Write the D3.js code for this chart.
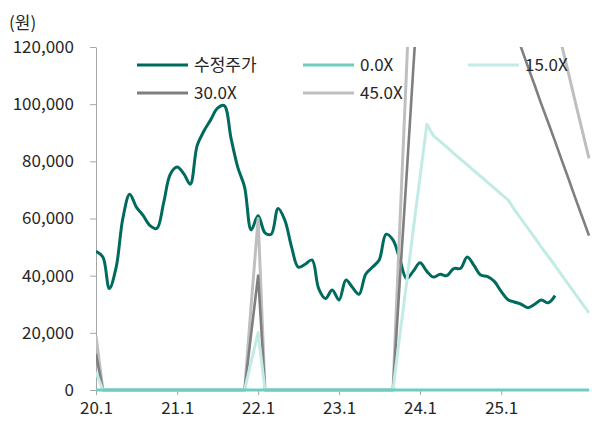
<!DOCTYPE html>
<html>
<head>
<meta charset="utf-8">
<script src="https://cdn.jsdelivr.net/npm/d3@7"></script>
<style>
  html, body { margin: 0; padding: 0; background: #fff; }
  svg text { font-family: "Noto Sans CJK KR", "Noto Sans", sans-serif; fill: #262626; }
</style>
</head>
<body>
<svg id="chart" width="592" height="421"></svg>
<script>
// ---- data ----
const startMonth = "2020-01";
const endMonth = "2026-02";
const yTicks = [0, 20000, 40000, 60000, 80000, 100000, 120000];
const xTickYears = ["2020-01", "2021-01", "2022-01", "2023-01", "2024-01", "2025-01"];
const unitLabel = "(원)";
const seriesNames = ["수정주가", "0.0X", "15.0X", "30.0X", "45.0X"];

// 수정주가 (monthly, from 2020-01)
const price = [
  48500, 46500, 35500, 43000, 60000, 68500, 64000, 61000, 57500, 56500,
  65500, 75500, 78000, 75500, 72000, 85500, 90500, 94500, 98500, 99500,
  88000, 78000, 71000, 56000, 61000, 55000, 54500, 63500, 59500, 50000,
  43000, 44000, 45500, 35500, 32000, 35000, 31500, 38500, 36000, 33500,
  40500, 43000, 45500, 54500, 52500, 46000, 39000, 41500, 44500, 41500,
  39500, 40500, 40000, 42500, 42500, 46500, 43500, 40200, 39700, 38000,
  34500, 31600, 30800, 30000, 28800, 30000, 31500, 30500, 33000
];
// PER bands (monthly, from 2020-01 to 2026-02)
const band0 = [
  0,
  0,0,0,0,0,0,0,0,0,0,
  0,0,0,0,0,0,0,0,0,0,
  0,0,
  0,0,
  0,0,0,0,0,0,0,0,0,0,
  0,0,0,0,0,0,0,0,0,0,
  0,0,0,0,0,
  0,0,0,0,0,0,0,0,0,0,0,0,
  0,0,0,0,0,0,0,0,0,0,0,0
];
const band15 = [
  6300,
  0,0,0,0,0,0,0,0,0,0,
  0,0,0,0,0,0,0,0,0,0,
  0,0,
  10000, 20000,
  0,0,0,0,0,0,0,0,0,0,
  0,0,0,0,0,0,0,0,0,0,
  18600, 37200, 55800, 74400, 93000,
  89000, 87000, 85000, 82800, 80800, 78800, 76700, 74700, 72600, 70600, 68500, 66500,
  63200, 59900, 56600, 53300, 50000, 46800, 43500, 40200, 36900, 33600, 30300, 27000
];
const band30 = [
  12600,
  0,0,0,0,0,0,0,0,0,0,
  0,0,0,0,0,0,0,0,0,0,
  0,0,
  20000, 40000,
  0,0,0,0,0,0,0,0,0,0,
  0,0,0,0,0,0,0,0,0,0,
  37200, 74400, 111600, 148800, 186000,
  178000, 174000, 170000, 165600, 161600, 157600, 153400, 149400, 145200, 141200, 137000, 133000,
  126400, 119800, 113200, 106600, 100000, 93600, 87000, 80400, 73800, 67200, 60600, 54000
];
const band45 = [
  18900,
  0,0,0,0,0,0,0,0,0,0,
  0,0,0,0,0,0,0,0,0,0,
  0,0,
  30000, 60000,
  0,0,0,0,0,0,0,0,0,0,
  0,0,0,0,0,0,0,0,0,0,
  55800, 111600, 167400, 223200, 279000,
  267000, 261000, 255000, 248400, 242400, 236400, 230100, 224100, 217800, 211800, 205500, 199500,
  189600, 179700, 169800, 159900, 150000, 140400, 130500, 120600, 110700, 100800, 90900, 81000
];

// ---- chart ----
const parse = d3.timeParse("%Y-%m");
const t0 = parse(startMonth), t1 = parse(endMonth);
const months = d3.timeMonth.range(t0, d3.timeMonth.offset(t1, 1));

const svg = d3.select("#chart");
const plot = { left: 96, right: 589, top: 47, bottom: 390 };

const x = d3.scaleTime().domain([t0, t1]).range([plot.left, plot.right]);
const y = d3.scaleLinear().domain([0, 120000]).range([plot.bottom, plot.top]);

const colors = {
  price: "#006b5d",
  b0: "#6dcdbf",
  b15: "#c3ebe5",
  b30: "#7f7f7f",
  b45: "#bfbfbf"
};
const fontStack = '"Noto Sans CJK KR", "Noto Sans", sans-serif';

// unit label
svg.append("text").attr("x", 9).attr("y", 29).attr("font-size", 17).text(unitLabel);

// y axis
const yAxis = svg.append("g")
  .attr("transform", `translate(${plot.left},0)`)
  .call(d3.axisLeft(y).tickValues(yTicks).tickSize(6).tickSizeOuter(0).tickPadding(16).tickFormat(d3.format(",")));
yAxis.selectAll("text").attr("font-size", 17).style("font-family", fontStack).attr("fill", "#262626");
yAxis.selectAll("line, path").attr("stroke", "#a6a6a6");

// x axis
const xAxis = svg.append("g")
  .attr("transform", `translate(0,${plot.bottom})`)
  .call(d3.axisBottom(x).tickValues(xTickYears.map(parse)).tickSize(5).tickSizeOuter(0).tickPadding(7).tickFormat(d3.timeFormat("%y.%-m")));
xAxis.selectAll("text").attr("font-size", 17).style("font-family", fontStack).attr("fill", "#262626");
xAxis.selectAll("line, path").attr("stroke", "#a6a6a6");

// clip
svg.append("clipPath").attr("id", "clip")
  .append("rect").attr("x", plot.left).attr("y", plot.top)
  .attr("width", plot.right - plot.left + 2).attr("height", plot.bottom - plot.top + 3);

const g = svg.append("g").attr("clip-path", "url(#clip)");

const priceLine = d3.line()
  .x((d, i) => x(months[i])).y(d => y(d))
  .curve(d3.curveCatmullRom.alpha(0.5));
const bandLine = d3.line()
  .x((d, i) => x(months[i])).y(d => y(d));

g.append("path").datum(price).attr("d", priceLine)
  .attr("fill", "none").attr("stroke", colors.price).attr("stroke-width", 3).attr("stroke-linejoin", "round");

const bands = [
  { data: band45, color: colors.b45, w: 3 },
  { data: band30, color: colors.b30, w: 2.6 },
  { data: band15, color: colors.b15, w: 3 },
  { data: band0, color: colors.b0, w: 3 }
];
bands.forEach(b => {
  g.append("path").datum(b.data).attr("d", bandLine)
    .attr("fill", "none").attr("stroke", b.color).attr("stroke-width", b.w).attr("stroke-linejoin", "round");
});

// legend
const legendItems = [
  { name: seriesNames[0], color: colors.price, col: 0, row: 0 },
  { name: seriesNames[1], color: colors.b0, col: 1, row: 0 },
  { name: seriesNames[2], color: colors.b15, col: 2, row: 0 },
  { name: seriesNames[3], color: colors.b30, col: 0, row: 1 },
  { name: seriesNames[4], color: colors.b45, col: 1, row: 1 }
];
const colX = [137, 303, 468];
const rowY = [65, 93];
const leg = svg.append("g");
legendItems.forEach(it => {
  const lx = colX[it.col], ly = rowY[it.row];
  leg.append("line").attr("x1", lx).attr("x2", lx + 51).attr("y1", ly).attr("y2", ly)
    .attr("stroke", it.color).attr("stroke-width", 3);
  leg.append("text").attr("x", lx + 57).attr("y", ly).attr("dy", "0.36em")
    .attr("font-size", 17).text(it.name);
});
</script>
</body>
</html>
